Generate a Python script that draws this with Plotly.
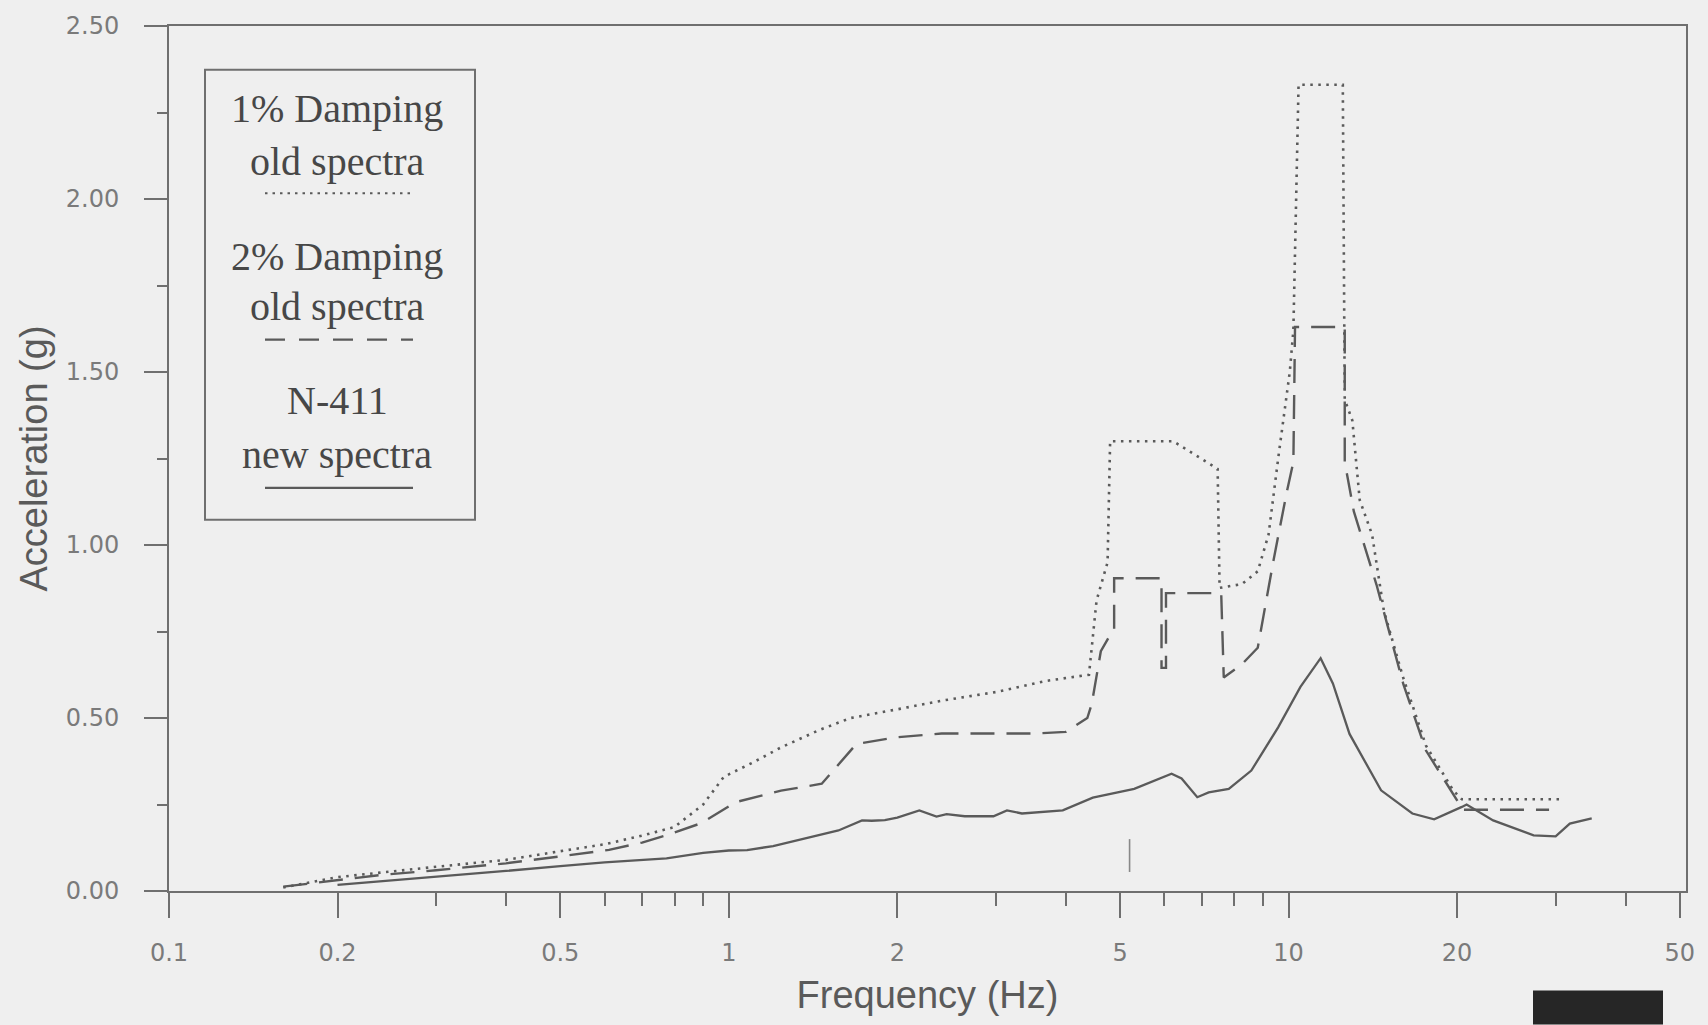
import plotly.graph_objects as go

# ---- data (frequency in Hz, acceleration in g) ----
damp1_freq = [0.16, 0.2, 0.3, 0.4, 0.5, 0.6, 0.7, 0.8, 0.9, 0.98, 1.1, 1.24, 1.45, 1.65, 2.0, 2.4, 3.0, 3.68, 4.4,
              4.54, 4.75, 4.8, 6.22, 7.47, 7.53, 8.25, 8.81, 9.21, 9.6, 10.05, 10.2, 10.42, 12.5, 12.6, 13.0,
              13.4, 14.1, 14.8, 16.0, 17.6, 19.7, 20.4, 30.6]
damp1_acc = [0.01, 0.04, 0.07, 0.09, 0.115, 0.135, 0.16, 0.185, 0.25, 0.33, 0.37, 0.415, 0.465, 0.50, 0.525, 0.55, 0.575, 0.607, 0.625,
             0.84, 0.95, 1.30, 1.30, 1.22, 0.876, 0.887, 0.924, 1.03, 1.26, 1.50, 1.62, 2.33, 2.33, 1.42, 1.36,
             1.13, 1.03, 0.81, 0.62, 0.42, 0.29, 0.265, 0.265]

damp2_freq = [0.16, 0.238, 0.3, 0.4, 0.5, 0.611, 0.7, 0.774, 0.893, 1.03, 1.24, 1.466, 1.69, 1.99, 2.4, 3.5, 4.0, 4.37,
              4.45, 4.62, 4.8, 4.88, 4.88, 5.93, 5.93, 6.04, 6.04, 7.58, 7.66, 8.25, 8.81, 9.39, 9.93, 10.2, 10.27,
              12.6, 12.6, 13.08, 14.36, 16.04, 17.6, 20.0, 20.4, 29.2]
damp2_acc = [0.0125, 0.046, 0.06, 0.08, 0.10, 0.119, 0.14, 0.161, 0.196, 0.257, 0.29, 0.31, 0.425, 0.444, 0.455, 0.455, 0.46, 0.50,
             0.54, 0.693, 0.74, 0.75, 0.904, 0.904, 0.645, 0.645, 0.861, 0.861, 0.617, 0.655, 0.703, 0.952, 1.154, 1.24, 1.63,
             1.63, 1.24, 1.097, 0.885, 0.597, 0.406, 0.262, 0.235, 0.235]

n411_freq = [0.2, 0.3, 0.4, 0.5, 0.6, 0.774, 0.9, 1.0, 1.078, 1.2, 1.4, 1.57, 1.73, 1.8, 1.9, 2.0, 2.19, 2.35, 2.45, 2.64, 2.97,
             3.14, 3.34, 3.95, 4.47, 5.3, 6.18, 6.44, 6.87, 7.2, 7.82, 8.58, 9.58, 10.5, 11.41, 12.0, 12.85, 14.63,
             16.64, 18.2, 20.4, 20.8, 23.2, 27.4, 30.0, 31.8, 34.8]
n411_acc = [0.0175, 0.04, 0.058, 0.072, 0.083, 0.094, 0.11, 0.117, 0.118, 0.13, 0.155, 0.175, 0.204, 0.203, 0.205, 0.212, 0.233, 0.215, 0.222, 0.216, 0.216,
            0.233, 0.224, 0.233, 0.27, 0.295, 0.339, 0.325, 0.271, 0.285, 0.295, 0.348, 0.473, 0.59, 0.673, 0.60, 0.454, 0.291,
            0.224, 0.207, 0.243, 0.25, 0.204, 0.161, 0.158, 0.195, 0.21]

marker_freq = [5.2, 5.2]
marker_acc = [0.055, 0.15]

x_major = [0.1, 0.2, 0.5, 1, 2, 5, 10, 20, 50]
x_major_text = ["0.1", "0.2", "0.5", "1", "2", "5", "10", "20", "50"]
x_minor = [0.3, 0.4, 0.6, 0.7, 0.8, 0.9, 3, 4, 6, 7, 8, 9, 30, 40]
y_major = [0.0, 0.5, 1.0, 1.5, 2.0, 2.5]
y_major_text = ["0.00", "0.50", "1.00", "1.50", "2.00", "2.50"]
y_minor = [0.25, 0.75, 1.25, 1.75, 2.25]

legend_lines = [("1% Damping", "old spectra"), ("2% Damping", "old spectra"), ("N-411", "new spectra")]

# ---- style ----
BG = "#efefef"
INK = "#5a5a5a"
AX = "#6f6f6f"
W, H = 1708, 1025
L, R, T, B = 169, 1686, 22, 891


def px(xp):
    return (xp - L) / (R - L)


def py(yp):
    return (B - yp) / (B - T)


fig = go.Figure()
fig.add_trace(go.Scatter(x=damp1_freq, y=damp1_acc, mode="lines", name="1% Damping old spectra",
                         line=dict(color=INK, width=2.6, dash="2.5px,5.5px")))
fig.add_trace(go.Scatter(x=damp2_freq, y=damp2_acc, mode="lines", name="2% Damping old spectra",
                         line=dict(color=INK, width=2.4, dash="24px,12px")))
fig.add_trace(go.Scatter(x=n411_freq, y=n411_acc, mode="lines", name="N-411 new spectra",
                         line=dict(color=INK, width=2.3)))
fig.add_trace(go.Scatter(x=marker_freq, y=marker_acc, mode="lines", showlegend=False,
                         line=dict(color="#888888", width=1.6)))

tickfont = dict(family="DejaVu Sans", size=24, color="#7a7a7a")
titlefont = dict(family="Liberation Sans", size=38, color="#5a5a5a")

fig.update_layout(
    width=W, height=H,
    paper_bgcolor=BG, plot_bgcolor=BG,
    margin=dict(l=L, r=W - R, t=T, b=H - B, pad=0),
    showlegend=False,
    xaxis=dict(type="log", range=[-1, 1.71], showgrid=False, zeroline=False,
               showline=True, linecolor=AX, linewidth=2, mirror=True,
               tickmode="array", tickvals=x_major, ticktext=x_major_text,
               ticks="outside", ticklen=25, tickwidth=2, tickcolor=AX,
               ticklabelstandoff=14, tickfont=tickfont,
               minor=dict(tickvals=x_minor, ticks="outside", ticklen=13, tickwidth=2, tickcolor=AX),
               title=dict(text="Frequency (Hz)", standoff=16, font=titlefont)),
    yaxis=dict(range=[0, 2.5], showgrid=False, zeroline=False,
               showline=True, linecolor=AX, linewidth=2, mirror=True,
               tickmode="array", tickvals=y_major, ticktext=y_major_text,
               ticks="outside", ticklen=23, tickwidth=2, tickcolor=AX,
               ticklabelstandoff=20, tickfont=tickfont,
               minor=dict(tickvals=y_minor, ticks="outside", ticklen=10, tickwidth=2, tickcolor=AX),
               title=dict(text="Acceleration (g)", standoff=6, font=titlefont)),
)

# ---- legend box drawn in the corner (text + line samples) ----
shapes = [dict(type="rect", xref="paper", yref="paper", x0=px(205), x1=px(475), y0=py(518), y1=py(66),
               line=dict(color=AX, width=2), fillcolor="rgba(0,0,0,0)")]
text_y = [(105, 158), (254, 304), (398, 452)]
sample_y = [190, 337, 486]
dashes = ["2.5px,5px", "20px,14px", "solid"]
lfont = dict(family="Liberation Serif", size=40, color="#474747")
annotations = []
for (t1, t2), (y1, y2), sy, d in zip(legend_lines, text_y, sample_y, dashes):
    annotations.append(dict(text=t1, x=px(337), y=py(y1), xref="paper", yref="paper",
                            xanchor="center", yanchor="middle", showarrow=False, font=lfont))
    annotations.append(dict(text=t2, x=px(337), y=py(y2), xref="paper", yref="paper",
                            xanchor="center", yanchor="middle", showarrow=False, font=lfont))
    shapes.append(dict(type="line", xref="paper", yref="paper", x0=px(265), x1=px(413), y0=py(sy), y1=py(sy),
                       line=dict(color=INK, width=2.2, dash=d)))

# dark scan mark at lower right
shapes.append(dict(type="rect", xref="paper", yref="paper", x0=px(1533), x1=px(1663), y0=py(1025), y1=py(991),
                   line=dict(width=0), fillcolor="#262626", layer="above"))

fig.update_layout(shapes=shapes, annotations=annotations)

fig.write_html("out.html", config={"displayModeBar": False},
               post_script="document.body.style.margin='0';document.body.style.background='#efefef';")
